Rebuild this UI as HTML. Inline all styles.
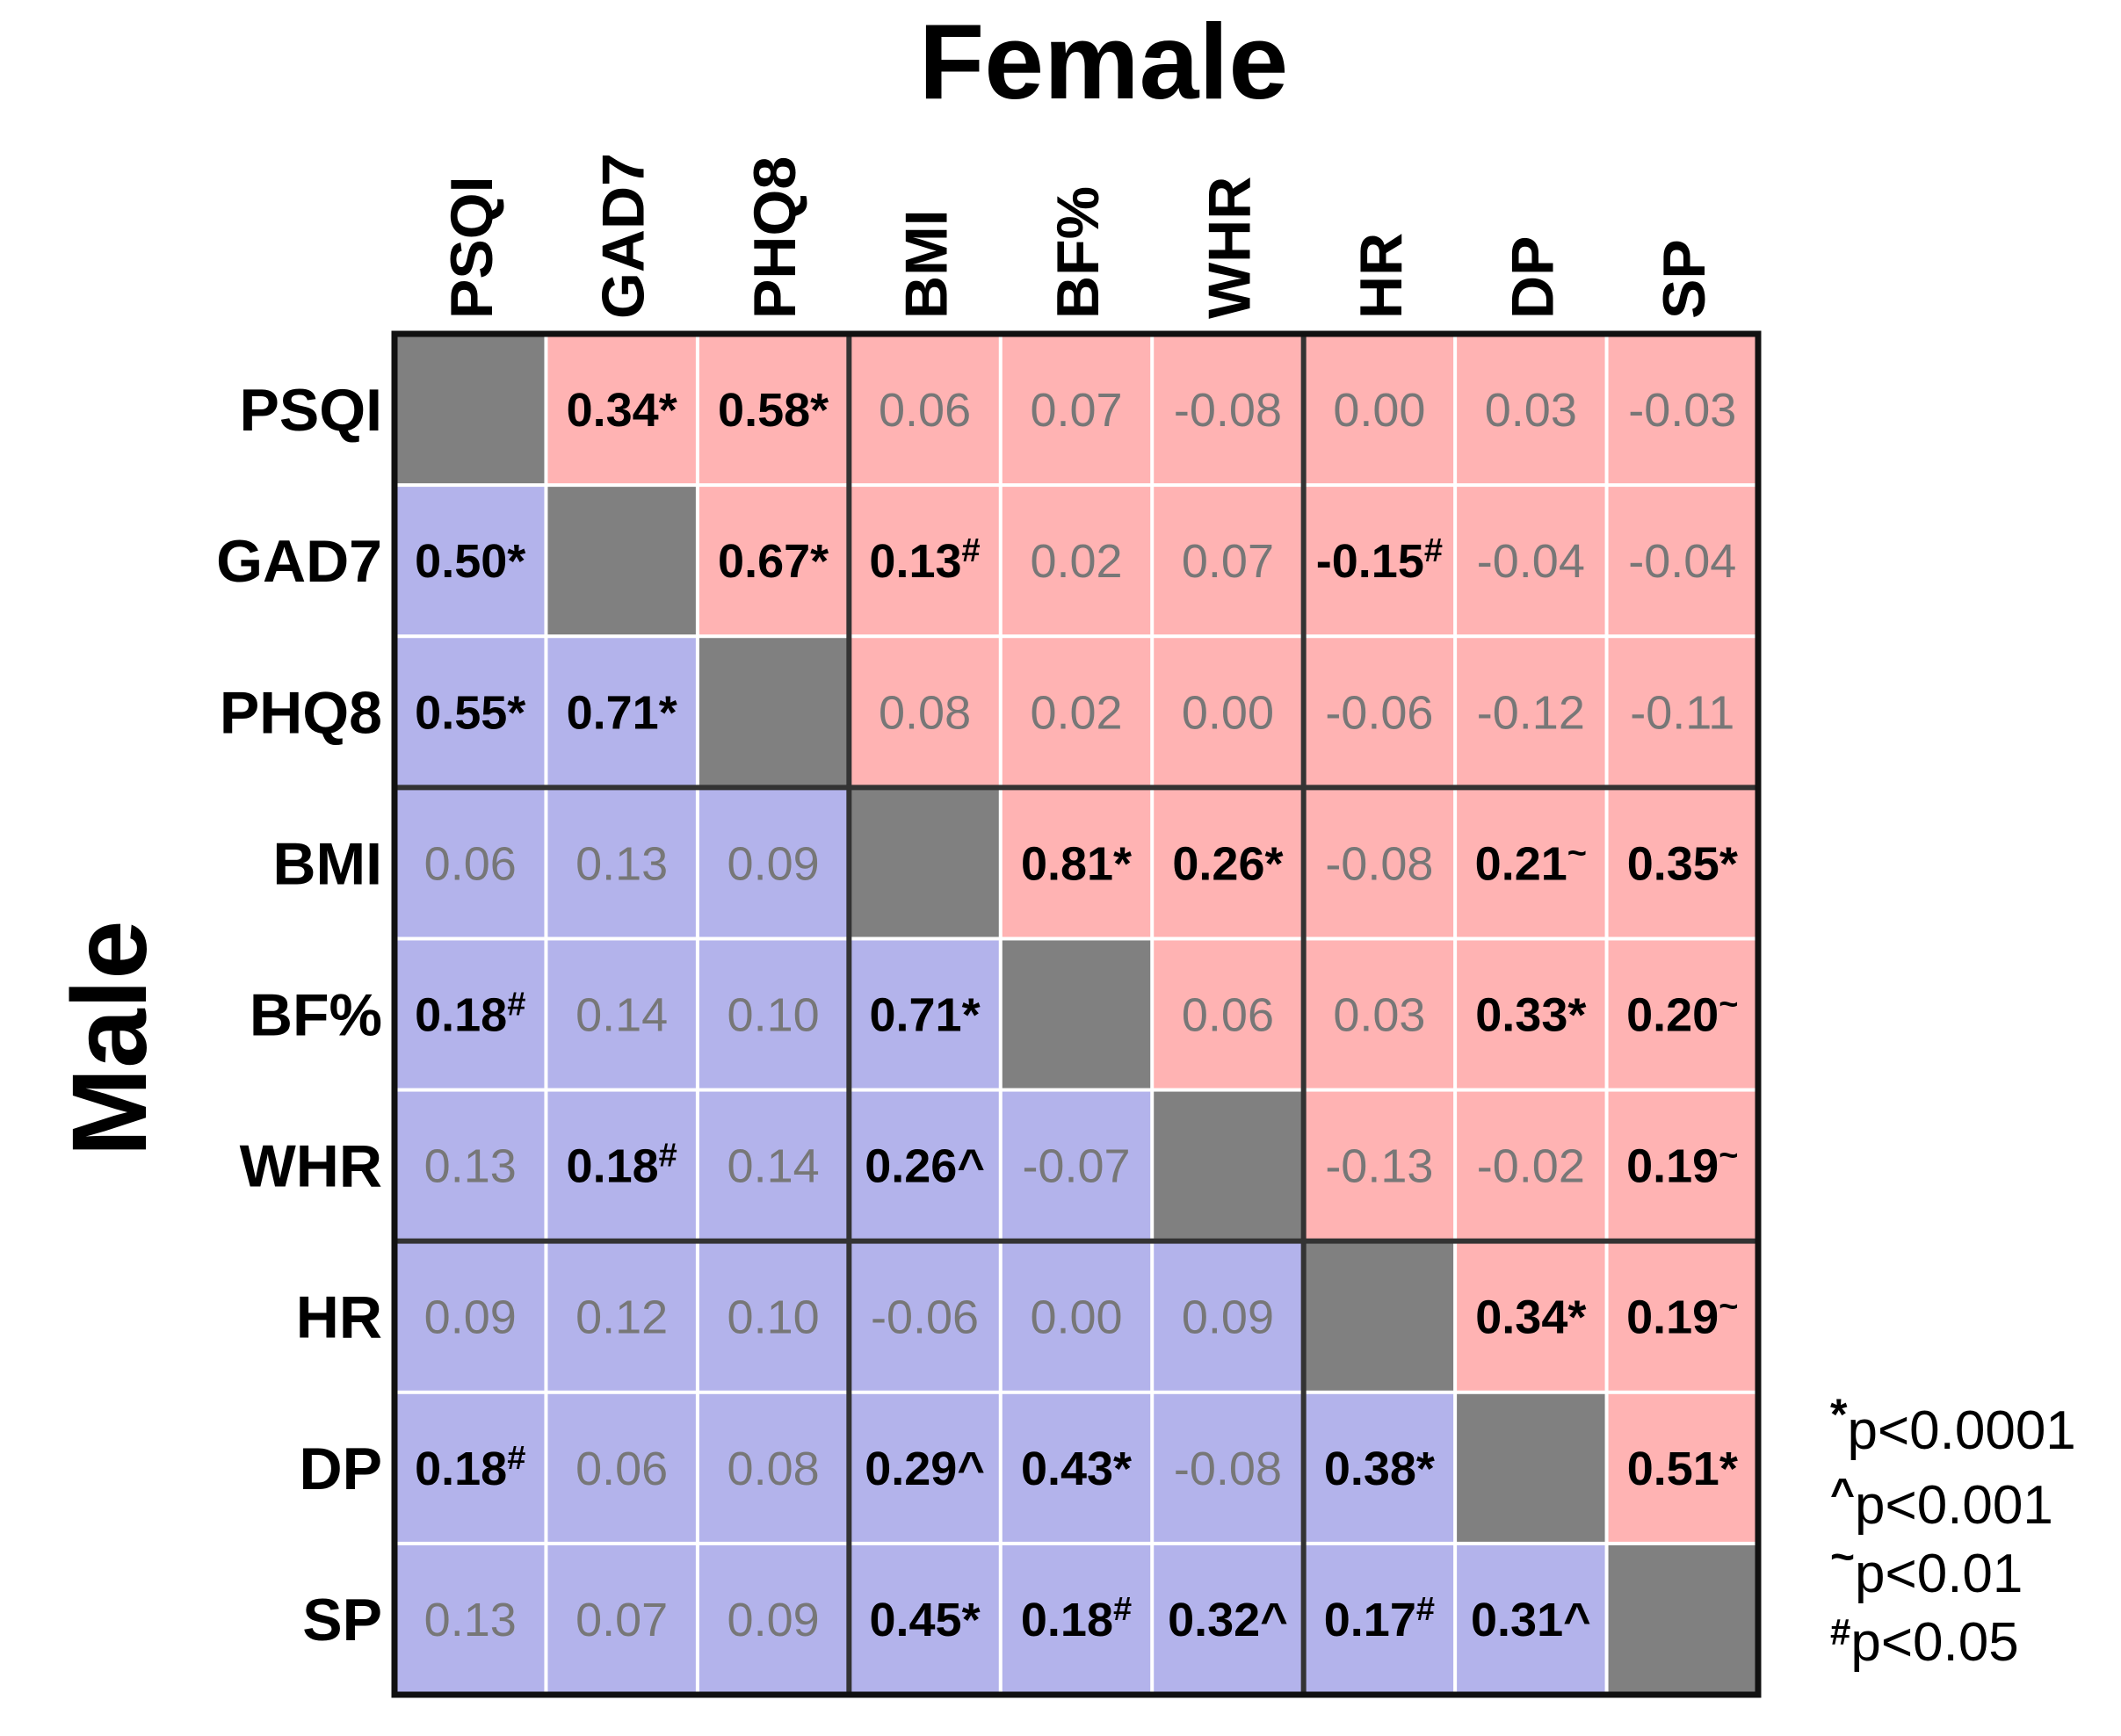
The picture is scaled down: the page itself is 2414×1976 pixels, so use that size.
<!DOCTYPE html>
<html><head><meta charset="utf-8"><style>
html,body{margin:0;padding:0;background:#fff;}
svg{display:block;font-family:"Liberation Sans",Arial,sans-serif;}
</style></head><body>
<svg id="chart" width="2414" height="1976" viewBox="0 0 2414 1976" xmlns="http://www.w3.org/2000/svg">
<text x="1256" y="112" font-size="122" font-weight="bold" text-anchor="middle">Female</text>
<text transform="translate(166,1182) rotate(-90)" font-size="121" font-weight="bold" text-anchor="middle">Male</text>
<g id="cells"></g><g id="labels"></g><g id="frame"></g>
<g font-size="62">
<text x="2083" y="1649"><tspan font-size="50" font-weight="bold" dy="-22">*</tspan><tspan dy="22">p&lt;0.0001</tspan></text>
<text x="2083" y="1734"><tspan font-size="48" font-weight="bold" dy="-18">^</tspan><tspan dy="18">p&lt;0.001</tspan></text>
<text x="2083" y="1812"><tspan font-size="48" font-weight="bold" dy="-24">~</tspan><tspan dy="24">p&lt;0.01</tspan></text>
<text x="2083" y="1890"><tspan font-size="42" font-weight="bold" dy="-18">#</tspan><tspan dy="18">p&lt;0.05</tspan></text>
</g>
</svg>
<script>
const categories = ["PSQI","GAD7","PHQ8","BMI","BF%","WHR","HR","DP","SP"];
const values = [
 [null,0.34,0.58,0.06,0.07,-0.08,0.00,0.03,-0.03],
 [0.50,null,0.67,0.13,0.02,0.07,-0.15,-0.04,-0.04],
 [0.55,0.71,null,0.08,0.02,0.00,-0.06,-0.12,-0.11],
 [0.06,0.13,0.09,null,0.81,0.26,-0.08,0.21,0.35],
 [0.18,0.14,0.10,0.71,null,0.06,0.03,0.33,0.20],
 [0.13,0.18,0.14,0.26,-0.07,null,-0.13,-0.02,0.19],
 [0.09,0.12,0.10,-0.06,0.00,0.09,null,0.34,0.19],
 [0.18,0.06,0.08,0.29,0.43,-0.08,0.38,null,0.51],
 [0.13,0.07,0.09,0.45,0.18,0.32,0.17,0.31,null]
];
const sig = [
 ["","*","*","","","","","",""],
 ["*","","*","#","","","#","",""],
 ["*","*","","","","","","",""],
 ["","","","","*","*","","~","*"],
 ["#","","","*","","","","*","~"],
 ["","#","","^","","","","","~"],
 ["","","","","","","","*","~"],
 ["#","","","^","*","","*","","*"],
 ["","","","*","#","^","#","^",""]
];
const groups = [3,6];
const NS="http://www.w3.org/2000/svg";
const X0=449,Y0=380,X1=2001,Y1=1929,n=categories.length;
const cw=(X1-X0)/n, ch=(Y1-Y0)/n;
const xs=i=>X0+i*cw, ys=i=>Y0+i*ch;
function mk(t,a,p){const e=document.createElementNS(NS,t);for(const k in a)e.setAttribute(k,a[k]);p.appendChild(e);return e;}
const cells=document.getElementById('cells'),labels=document.getElementById('labels'),frame=document.getElementById('frame');
const fmt=v=>(v<0?"-":"")+Math.abs(v).toFixed(2);
for(let r=0;r<n;r++)for(let c=0;c<n;c++){
  const fill=r===c?"#808080":(c>r?"#ffb3b3":"#b3b3eb");
  const rc=mk('rect',{x:xs(c)+2,y:ys(r)+2,width:cw-4,height:ch-4,fill:fill},cells);
  
  
  const v=values[r][c];
  if(v===null)continue;
  const s=sig[r][c];
  const t=mk('text',{x:xs(c)+cw/2,y:ys(r)+ch/2+19,'text-anchor':'middle','font-size':54},cells);
  
  
  if(s){t.setAttribute('font-weight','bold');t.setAttribute('fill','#000');}
  else t.setAttribute('fill','#777');
  t.appendChild(document.createTextNode(fmt(v)));
  if(s){const sp=mk('tspan',{},t);
    if(s==="#"||s==="~"){sp.setAttribute('font-size','38');sp.setAttribute('dy','-18');}
    sp.textContent=s;}
}
categories.forEach((name,i)=>{
  const rl=mk('text',{x:435,y:ys(i)+ch/2+24,'text-anchor':'end','font-size':68,'font-weight':'bold'},labels);
  
  
  rl.textContent=name;
  const cl=mk('text',{transform:`translate(${xs(i)+cw/2+25},363) rotate(-90)`,'text-anchor':'start','font-size':68,'font-weight':'bold'},labels);
  
  
  cl.textContent=name;
});
groups.forEach(g=>{
  const v=mk('line',{x1:xs(g),x2:xs(g),y1:Y0,y2:Y1,stroke:'#333',"stroke-width":6},frame);
  
  
  const h=mk('line',{x1:X0,x2:X1,y1:ys(g),y2:ys(g),stroke:'#333',"stroke-width":6},frame);
  
  
});
const b=mk('rect',{x:X0,y:Y0,width:X1-X0,height:Y1-Y0,fill:'none',stroke:'#111',"stroke-width":7},frame);


</script>
</body></html>
